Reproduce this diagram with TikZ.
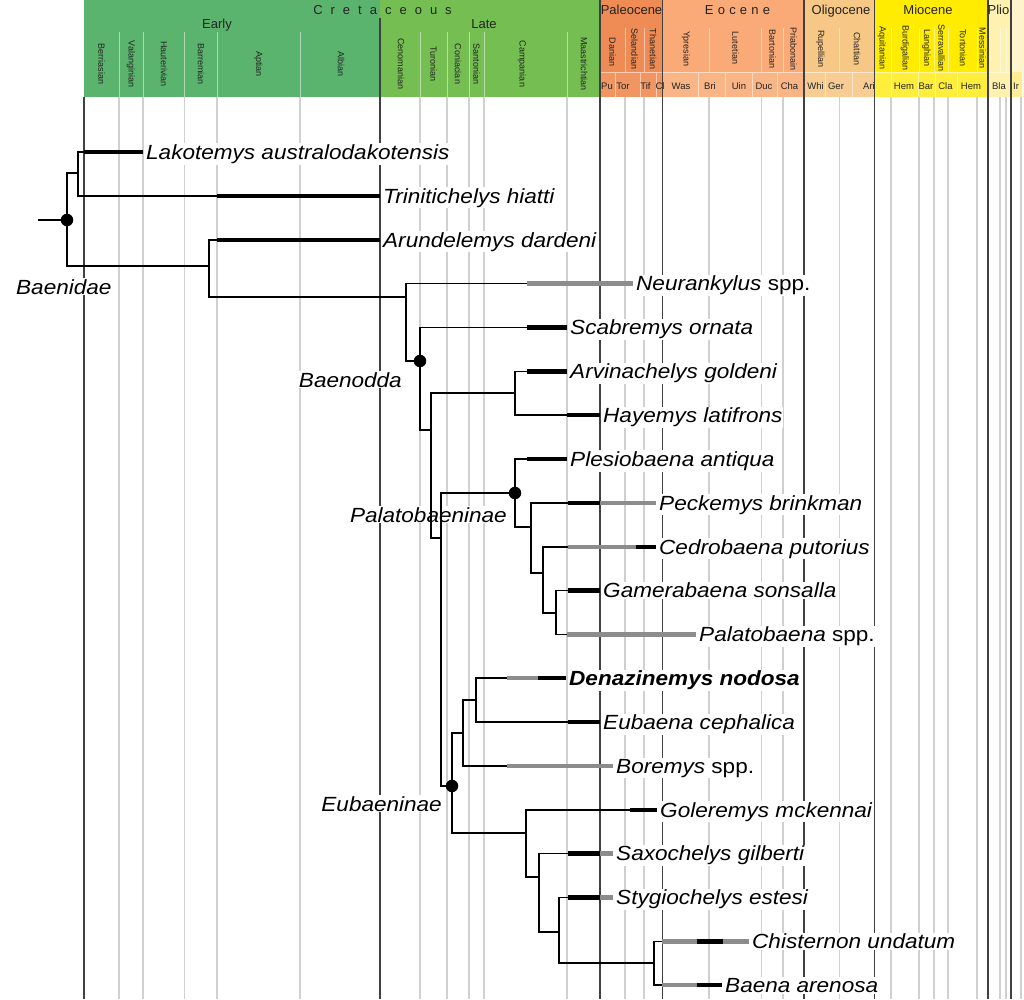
\documentclass[tikz,border=0pt]{standalone}
\usepackage{fontspec}
\setmainfont{Liberation Sans}
\newfontfamily\taxfont[FakeStretch=1.1]{Liberation Sans}
\usepackage{xcolor}
\definecolor{k-early}{RGB}{91,180,109}
\definecolor{k-late}{RGB}{116,190,82}
\definecolor{paleo}{RGB}{239,139,84}
\definecolor{paleo-lma}{RGB}{241,150,98}
\definecolor{eo}{RGB}{250,170,118}
\definecolor{eo-lma}{RGB}{250,181,134}
\definecolor{oligo}{RGB}{247,199,133}
\definecolor{oligo-lma}{RGB}{247,205,147}
\definecolor{mio}{RGB}{255,236,0}
\definecolor{mio-lma}{RGB}{255,239,60}
\definecolor{plio}{RGB}{255,241,175}
\definecolor{pleisto}{RGB}{255,245,205}
\definecolor{ir-cell}{RGB}{255,238,150}
\definecolor{grid-dark}{RGB}{64,64,64}
\definecolor{grid-light}{RGB}{208,208,208}
\definecolor{range-gray}{RGB}{140,140,140}
\definecolor{head-text}{RGB}{35,35,35}
\usepackage{tikz}

\begin{document}
\begin{tikzpicture}[
    x=1pt, y=-1pt,
    grid major/.style={draw=grid-dark, line width=1.3pt},
    grid minor/.style={draw=grid-light, line width=1.5pt},
    head sep/.style={draw=white, draw opacity=0.5, line width=1pt},
    head bound/.style={draw=grid-dark, line width=1.2pt},
    epoch label/.style={
        font=\fontsize{13}{15}\selectfont,
        text=head-text,
        anchor=base,
        inner sep=0pt
    },
    stage label/.style={
        font=\fontsize{9}{10}\selectfont,
        text=head-text,
        rotate=-90,
        inner sep=0pt
    },
    lma label/.style={
        font=\fontsize{9.5}{11}\selectfont,
        text=head-text,
        anchor=base,
        inner sep=0pt
    },
    branch/.style={draw=black, line width=1.6pt},
    range known/.style={draw=black, line width=4.4pt},
    range unsure/.style={draw=range-gray, line width=4.4pt},
    taxon/.style={
        font=\taxfont\fontsize{20.5}{24}\selectfont\itshape,
        fill=white,
        inner sep=1pt,
        anchor=base west,
        xshift=2pt,
        yshift=-7.3pt
    },
    clade/.style={
        font=\taxfont\fontsize{20.5}{24}\selectfont\itshape,
        fill=white,
        inner sep=1pt
    },
    clade dot/.style={circle, fill=black, minimum size=12.5pt, inner sep=0pt}
]

\useasboundingbox (0,0) rectangle (1024,999);

% Header colour bands
\fill[k-early] (84,0) rectangle (380,97);
\fill[k-late] (380,0) rectangle (600,97);
\fill[paleo] (600,0) rectangle (662.5,72);
\fill[paleo-lma] (600,72) rectangle (662.5,97);
\fill[eo] (662.5,0) rectangle (804,72);
\fill[eo-lma] (662.5,72) rectangle (804,97);
\fill[oligo] (804,0) rectangle (874.5,72);
\fill[oligo-lma] (804,72) rectangle (874.5,97);
\fill[mio] (874.5,0) rectangle (988,72);
\fill[mio-lma] (874.5,72) rectangle (988,97);
\fill[plio] (988,0) rectangle (1011,97);
\fill[pleisto] (1011,0) rectangle (1024,97);
\fill[ir-cell] (1011,72) rectangle (1022,97);

% Header separators
\draw[head sep]
    (119,32) -- (119,97) (143,32) -- (143,97) (184.5,32) -- (184.5,97)
    (217,32) -- (217,97) (300,32) -- (300,97) (420,32) -- (420,97)
    (447,32) -- (447,97) (469,32) -- (469,97) (484,32) -- (484,97)
    (567,32) -- (567,97);
\draw[head sep]
    (625,28) -- (625,72) (644,28) -- (644,72) (709,28) -- (709,72)
    (761.5,28) -- (761.5,72) (783,28) -- (783,72) (839.5,28) -- (839.5,72)
    (891,28) -- (891,72) (919,28) -- (919,72) (934,28) -- (934,72)
    (948,28) -- (948,72) (977,28) -- (977,72) (1000,28) -- (1000,72)
    (1006,28) -- (1006,72);
\draw[head sep]
    (600,72) -- (1011,72)
    (615,72) -- (615,97) (640,72) -- (640,97) (656.7,72) -- (656.7,97)
    (698,72) -- (698,97) (725,72) -- (725,97) (752,72) -- (752,97)
    (777,72) -- (777,97) (825,72) -- (825,97) (852,72) -- (852,97)
    (891,72) -- (891,97) (918,72) -- (918,97) (935,72) -- (935,97)
    (957,72) -- (957,97) (1022,72) -- (1022,97);
\draw[head bound]
    (380,18) -- (380,97) (600,0) -- (600,97) (662.5,0) -- (662.5,97)
    (804,0) -- (804,97) (874.5,0) -- (874.5,97) (988,0) -- (988,97)
    (1011,0) -- (1011,97);

% Periods and epochs
\node[epoch label] (h-cret) at (382.5,14) {\spaceskip=8pt\relax C r e t a c e o u s};
\node[epoch label] (h-early) at (217,28.5) {Early};
\node[epoch label] (h-late) at (484,28.5) {Late};
\node[epoch label] (h-paleo) at (631.5,14) {Paleocene};
\node[epoch label] (h-eo) at (737.5,14) {\spaceskip=4.2pt\relax E o c e n e};
\node[epoch label] (h-oligo) at (841,14) {Oligocene};
\node[epoch label] (h-mio) at (928,14) {Miocene};
\node[epoch label] (h-plio) at (998.5,14) {Plio};

% Stages
\node[stage label] (st-ber) at (101.5,64) {Berriasian};
\node[stage label] (st-val) at (131,64) {Valanginian};
\node[stage label] (st-hau) at (164,64) {Hauterivian};
\node[stage label] (st-bar) at (201,64) {Barremian};
\node[stage label] (st-apt) at (258.5,64) {Aptian};
\node[stage label] (st-alb) at (341,64) {Albian};
\node[stage label] (st-cen) at (401,64) {Cenomanian};
\node[stage label] (st-tur) at (433.5,64) {Turonian};
\node[stage label] (st-con) at (458,64) {Coniacian};
\node[stage label] (st-san) at (476.5,64) {Santonian};
\node[stage label] (st-cam) at (522,64) {Campanian};
\node[stage label] (st-maa) at (584,64) {Maastrichtian};
\node[stage label] (st-dan) at (612.5,52) {Danian};
\node[stage label] (st-sel) at (634.5,49) {Selandian};
\node[stage label] (st-tha) at (653,49) {Thanetian};
\node[stage label] (st-ypr) at (686,49) {Ypresian};
\node[stage label] (st-lut) at (735.5,48) {Lutetian};
\node[stage label] (st-brt) at (772.5,49) {Bartonian};
\node[stage label] (st-pri) at (793.5,49) {Priabonain};
\node[stage label] (st-rup) at (820.5,49) {Rupellian};
\node[stage label] (st-cha) at (857,49) {Chattian};
\node[stage label] (st-aqu) at (882,48) {Aquitanian};
\node[stage label] (st-bur) at (905,48) {Burdigalian};
\node[stage label] (st-lan) at (926.5,48) {Langhian};
\node[stage label] (st-ser) at (941.5,48) {Serravallian};
\node[stage label] (st-tor) at (963,48) {Tortonian};
\node[stage label] (st-mes) at (982.5,48) {Messinian};

% Land mammal ages
\node[lma label] (lma-pu) at (607,89) {Pu};
\node[lma label] (lma-tor) at (623,89) {Tor};
\node[lma label] (lma-tif) at (645.5,89) {Tif};
\node[lma label] (lma-cl) at (660,89) {Cl};
\node[lma label] (lma-was) at (681,89) {Was};
\node[lma label] (lma-bri) at (710,89) {Bri};
\node[lma label] (lma-uin) at (739,89) {Uin};
\node[lma label] (lma-duc) at (764,89) {Duc};
\node[lma label] (lma-cha) at (789.5,89) {Cha};
\node[lma label] (lma-whi) at (815.5,89) {Whi};
\node[lma label] (lma-ger) at (836,89) {Ger};
\node[lma label] (lma-ari) at (869,89) {Ari};
\node[lma label] (lma-hem) at (904,89) {Hem};
\node[lma label] (lma-bar) at (926,89) {Bar};
\node[lma label] (lma-cla) at (945.5,89) {Cla};
\node[lma label] (lma-hem2) at (971,89) {Hem};
\node[lma label] (lma-bla) at (999,89) {Bla};
\node[lma label] (lma-ir) at (1016,89) {Ir};

% Time grid
\draw[grid minor]
    (119,97) -- (119,999) (143,97) -- (143,999) (184.5,97) -- (184.5,999)
    (217,97) -- (217,999) (300,97) -- (300,999) (420,97) -- (420,999)
    (447,97) -- (447,999) (469,97) -- (469,999) (484,97) -- (484,999)
    (567,97) -- (567,999) (625,97) -- (625,999) (644,97) -- (644,999)
    (709,97) -- (709,999) (761.5,97) -- (761.5,999) (783,97) -- (783,999)
    (839.5,97) -- (839.5,999) (891,97) -- (891,999) (919,97) -- (919,999)
    (934,97) -- (934,999) (948,97) -- (948,999) (977,97) -- (977,999)
    (1000,97) -- (1000,999) (1006,97) -- (1006,999) (1021,97) -- (1021,999);
\draw[grid major]
    (84,97) -- (84,999) (380,97) -- (380,999) (600,97) -- (600,999)
    (662.5,97) -- (662.5,999) (804,97) -- (804,999) (874.5,97) -- (874.5,999)
    (988,97) -- (988,999) (1011,97) -- (1011,999);

% Tips
\coordinate (t-lak) at (143,152);
\coordinate (t-tri) at (380,195.9);
\coordinate (t-aru) at (380,239.7);
\coordinate (t-neu) at (633,283.6);
\coordinate (t-sca) at (567,327.4);
\coordinate (t-arv) at (567,371.3);
\coordinate (t-hay) at (600,415.1);
\coordinate (t-ple) at (567,459);
\coordinate (t-pec) at (656,502.8);
\coordinate (t-ced) at (656,546.7);
\coordinate (t-gam) at (600,590.5);
\coordinate (t-pal) at (696,634.4);
\coordinate (t-den) at (566,678.2);
\coordinate (t-eub) at (600,722.1);
\coordinate (t-bor) at (613,765.9);
\coordinate (t-gol) at (657,809.8);
\coordinate (t-sax) at (613,853.6);
\coordinate (t-sty) at (613,897.5);
\coordinate (t-chi) at (749,941.3);
\coordinate (t-bae) at (722,985.2);

% Taxon names
\node[taxon] (lak) at (t-lak) {Lakotemys australodakotensis};
\node[taxon] (tri) at (t-tri) {Trinitichelys hiatti};
\node[taxon] (aru) at (t-aru) {Arundelemys dardeni};
\node[taxon] (neu) at (t-neu) {Neurankylus \upshape spp.};
\node[taxon] (sca) at (t-sca) {Scabremys ornata};
\node[taxon] (arv) at (t-arv) {Arvinachelys goldeni};
\node[taxon] (hay) at (t-hay) {Hayemys latifrons};
\node[taxon] (ple) at (t-ple) {Plesiobaena antiqua};
\node[taxon] (pec) at (t-pec) {Peckemys brinkman};
\node[taxon] (ced) at (t-ced) {Cedrobaena putorius};
\node[taxon] (gam) at (t-gam) {Gamerabaena sonsalla};
\node[taxon] (pal) at (t-pal) {Palatobaena \upshape spp.};
\node[taxon] (den) at (t-den) {\bfseries Denazinemys nodosa};
\node[taxon] (eub) at (t-eub) {Eubaena cephalica};
\node[taxon] (bor) at (t-bor) {Boremys \upshape spp.};
\node[taxon] (gol) at (t-gol) {Goleremys mckennai};
\node[taxon] (sax) at (t-sax) {Saxochelys gilberti};
\node[taxon] (sty) at (t-sty) {Stygiochelys estesi};
\node[taxon] (chi) at (t-chi) {Chisternon undatum};
\node[taxon] (bae) at (t-bae) {Baena arenosa};

% Clade names
\node[clade, anchor=base west] (lb-baenidae) at (15,294) {Baenidae};
\node[clade, anchor=base east] (lb-baenodda) at (403,387) {Baenodda};
\node[clade, anchor=base east] (lb-palato) at (508,522) {Palatobaeninae};
\node[clade, anchor=base east] (lb-eubaen) at (443,811) {Eubaeninae};

% Internal nodes
\coordinate (stem) at (38,220);
\coordinate (root) at (67,220);
\coordinate (nA) at (78,173);
\coordinate (nB) at (209,266);
\coordinate (nC) at (406,297);
\coordinate (nD) at (420,361);
\coordinate (nE) at (431,430);
\coordinate (nF) at (515,393);
\coordinate (nG) at (441,538);
\coordinate (nH) at (515,493);
\coordinate (nI) at (531,527);
\coordinate (nJ) at (543,573);
\coordinate (nK) at (556,613);
\coordinate (nL) at (452,786);
\coordinate (nM) at (463,733);
\coordinate (nN) at (476,700);
\coordinate (nO) at (526,833);
\coordinate (nP) at (539,877);
\coordinate (nQ) at (559,932);
\coordinate (nR) at (654,963);

% Branches
\draw[branch] (stem) -- (root);
\draw[branch] (root) |- (nA);
\draw[branch] (root) |- (nB);
\draw[branch] (nA) |- (t-lak);
\draw[branch] (nA) |- (t-tri);
\draw[branch] (nB) |- (t-aru);
\draw[branch] (nB) |- (nC);
\draw[branch] (nC) |- (t-neu);
\draw[branch] (nC) |- (nD);
\draw[branch] (nD) |- (t-sca);
\draw[branch] (nD) |- (nE);
\draw[branch] (nE) |- (nF);
\draw[branch] (nE) |- (nG);
\draw[branch] (nF) |- (t-arv);
\draw[branch] (nF) |- (t-hay);
\draw[branch] (nG) |- (nH);
\draw[branch] (nG) |- (nL);
\draw[branch] (nH) |- (t-ple);
\draw[branch] (nH) |- (nI);
\draw[branch] (nI) |- (t-pec);
\draw[branch] (nI) |- (nJ);
\draw[branch] (nJ) |- (t-ced);
\draw[branch] (nJ) |- (nK);
\draw[branch] (nK) |- (t-gam);
\draw[branch] (nK) |- (t-pal);
\draw[branch] (nL) |- (nM);
\draw[branch] (nL) |- (nO);
\draw[branch] (nM) |- (nN);
\draw[branch] (nM) |- (t-bor);
\draw[branch] (nN) |- (t-den);
\draw[branch] (nN) |- (t-eub);
\draw[branch] (nO) |- (t-gol);
\draw[branch] (nO) |- (nP);
\draw[branch] (nP) |- (t-sax);
\draw[branch] (nP) |- (nQ);
\draw[branch] (nQ) |- (t-sty);
\draw[branch] (nQ) |- (nR);
\draw[branch] (nR) |- (t-chi);
\draw[branch] (nR) |- (t-bae);

% Stratigraphic ranges
\draw[range known] (84,152) -- (t-lak);
\draw[range known] (217,195.9) -- (t-tri);
\draw[range known] (217,239.7) -- (t-aru);
\draw[range unsure] (527,283.6) -- (t-neu);
\draw[range known] (527,327.4) -- (t-sca);
\draw[range known] (527,371.3) -- (t-arv);
\draw[range known] (567,415.1) -- (t-hay);
\draw[range known] (527,459) -- (t-ple);
\draw[range known] (568,502.8) -- (600,502.8);
\draw[range unsure] (600,502.8) -- (t-pec);
\draw[range unsure] (568,546.7) -- (636,546.7);
\draw[range known] (636,546.7) -- (t-ced);
\draw[range known] (568,590.5) -- (t-gam);
\draw[range unsure] (567,634.4) -- (t-pal);
\draw[range unsure] (507,678.2) -- (538,678.2);
\draw[range known] (538,678.2) -- (t-den);
\draw[range known] (568,722.1) -- (t-eub);
\draw[range unsure] (507,765.9) -- (t-bor);
\draw[range known] (630,809.8) -- (t-gol);
\draw[range known] (568,853.6) -- (600,853.6);
\draw[range unsure] (600,853.6) -- (t-sax);
\draw[range known] (568,897.5) -- (600,897.5);
\draw[range unsure] (600,897.5) -- (t-sty);
\draw[range unsure] (662,941.3) -- (697,941.3);
\draw[range known] (697,941.3) -- (723,941.3);
\draw[range unsure] (723,941.3) -- (t-chi);
\draw[range unsure] (662,985.2) -- (697,985.2);
\draw[range known] (697,985.2) -- (t-bae);

% Named clades
\node[clade dot] (d-root) at (root) {};
\node[clade dot] (d-baenodda) at (nD) {};
\node[clade dot] (d-palato) at (nH) {};
\node[clade dot] (d-eubaen) at (nL) {};

\end{tikzpicture}
\end{document}
